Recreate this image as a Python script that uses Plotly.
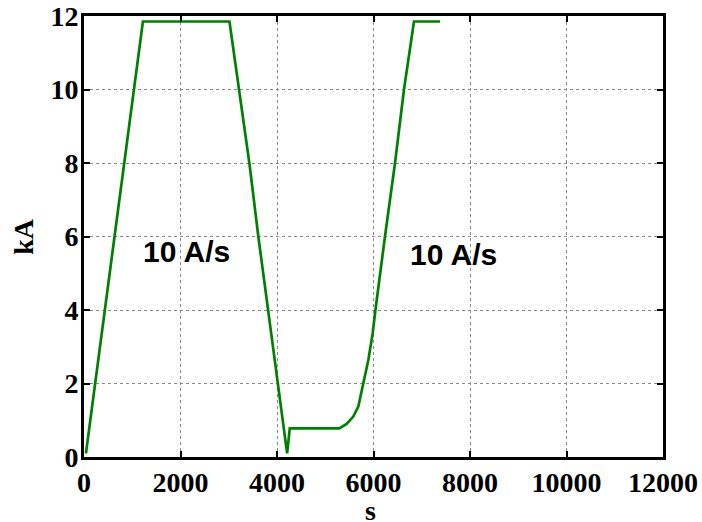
import plotly.graph_objects as go

# Data
time_s = [40, 1221, 3015, 3212, 3427, 3613, 3820, 4027, 4149, 4210, 4265,
          5290, 5443, 5581, 5685, 5789, 5893, 5983, 6040, 6238, 6446, 6632,
          6839, 7378]
current_kA = [0.1, 11.85, 11.85, 10.0, 8.0, 6.0, 4.0, 2.0, 0.78, 0.1, 0.78,
              0.78, 0.9, 1.1, 1.37, 2.0, 2.64, 3.37, 4.0, 6.0, 8.0, 10.0,
              11.85, 11.85]

x_ticks = [0, 2000, 4000, 6000, 8000, 10000, 12000]
y_ticks = [0, 2, 4, 6, 8, 10, 12]

label_text = ["10 A/s", "10 A/s"]
label_x = [2122, 7668]
label_y = [5.6, 5.5]

serif = "Times New Roman, Liberation Serif, serif"
sans = "Arial, Liberation Sans, sans-serif"

fig = go.Figure()
fig.add_trace(go.Scatter(x=time_s, y=current_kA, mode="lines",
                         line=dict(color="#008000", width=2.7),
                         showlegend=False, hoverinfo="skip"))

for t, xx, yy in zip(label_text, label_x, label_y):
    fig.add_annotation(x=xx, y=yy, xref="x", yref="y", text=t, showarrow=False,
                       font=dict(family=sans, size=30, color="black", weight="bold"),
                       xanchor="center", yanchor="middle")

axis_common = dict(showline=True, linecolor="black", linewidth=3, mirror="ticks",
                   ticks="inside", ticklen=6, tickwidth=2, tickcolor="black",
                   showgrid=True, gridcolor="#8a8a8a", gridwidth=1, griddash="dot",
                   zeroline=False, automargin=False, ticklabeloverflow="allow",
                   tickfont=dict(family=serif, size=28, color="black", weight="bold"))

fig.update_xaxes(range=[0, 12000], tickvals=x_ticks, ticklabelstandoff=-2,
                 ticktext=[str(v) for v in x_ticks], **axis_common)
fig.update_yaxes(range=[0, 12], tickvals=y_ticks, ticklabelstandoff=-3,
                 ticktext=[str(v) for v in y_ticks], **axis_common)

fig.add_annotation(x=-0.105, y=0.5, xref="paper", yref="paper", text="kA",
                   textangle=-90, showarrow=False, xanchor="center", yanchor="middle",
                   font=dict(family=serif, size=28, color="black", weight="bold"))
fig.add_annotation(x=0.494, y=-0.121, xref="paper", yref="paper", text="s",
                   showarrow=False, xanchor="center", yanchor="middle",
                   font=dict(family=serif, size=28, color="black", weight="bold"))

fig.update_layout(width=702, height=522,
                  margin=dict(l=84, r=39, t=16, b=65),
                  paper_bgcolor="white", plot_bgcolor="white")

# remove the default page margin so the 702x522 figure fills the window exactly
fig.write_html("out.html", config={"displayModeBar": False},
               post_script="document.body.style.margin='0';document.body.style.overflow='hidden';")
